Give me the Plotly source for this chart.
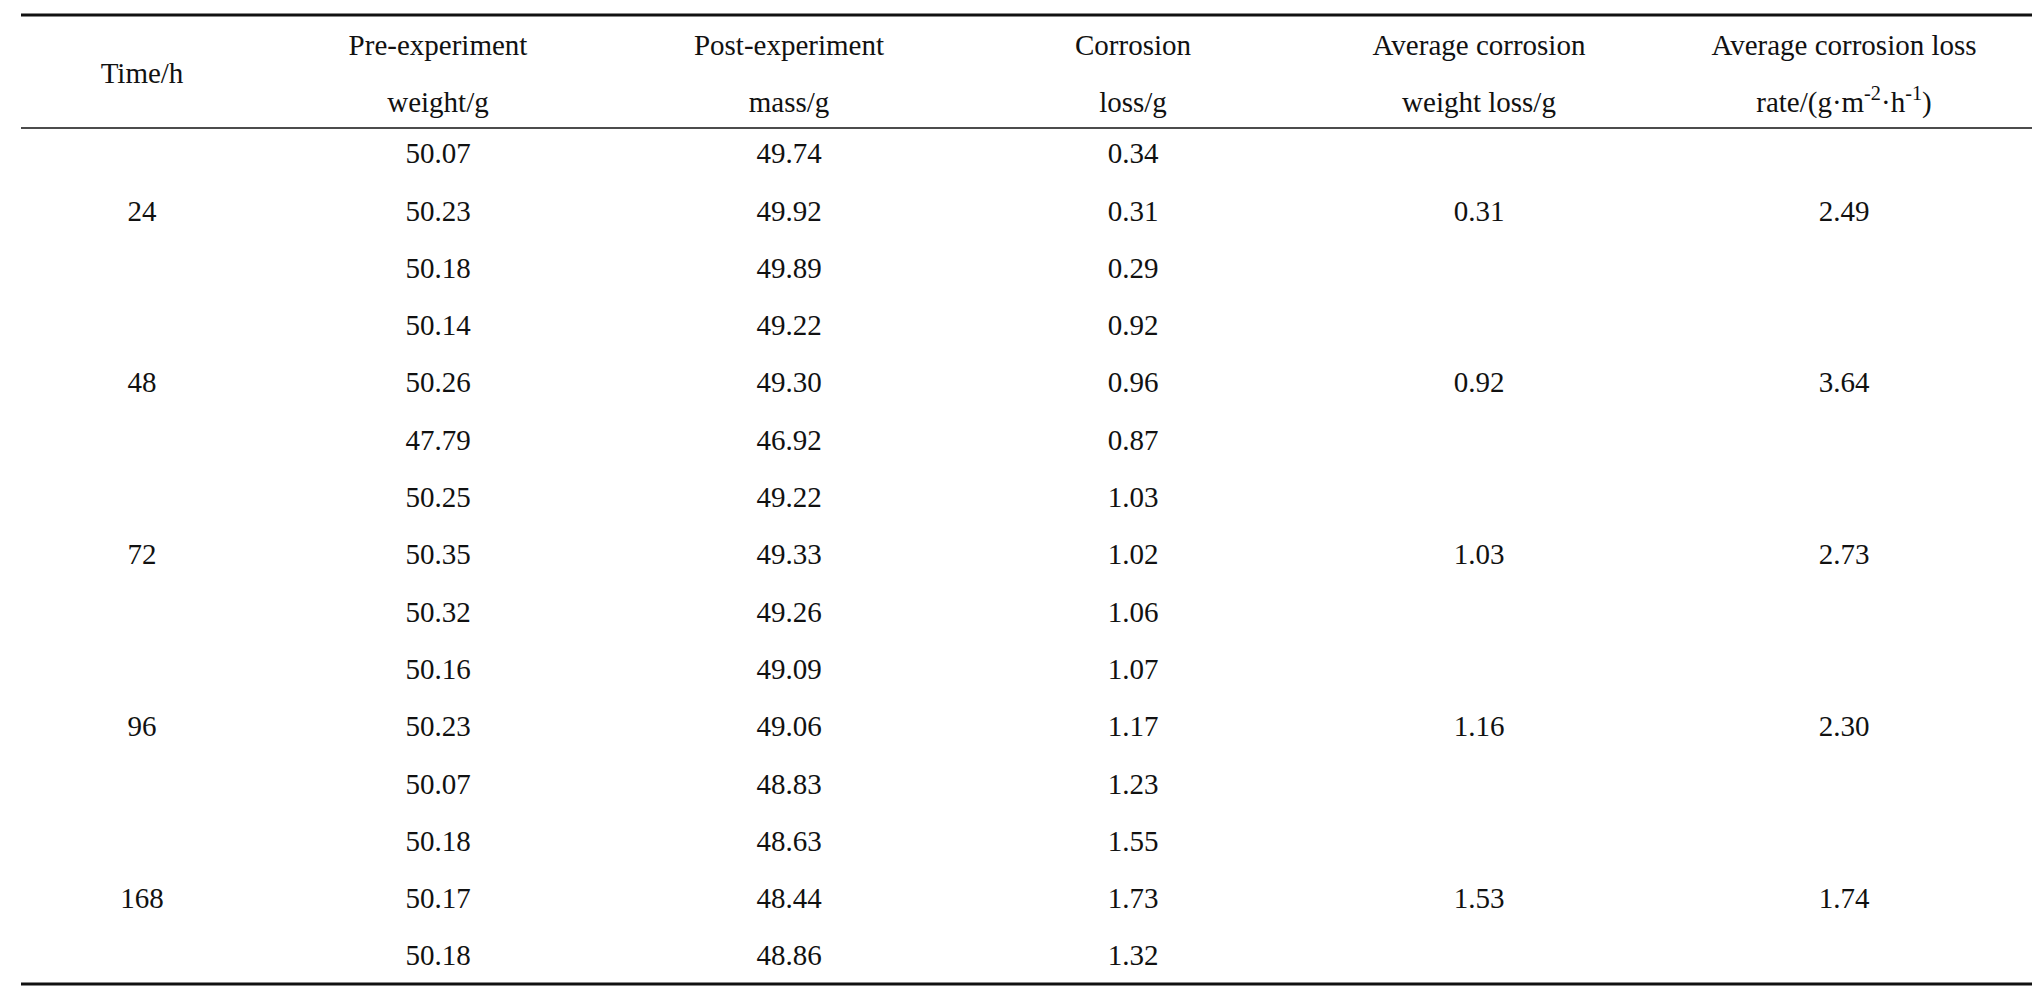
import plotly.graph_objects as go

# table data =======
header_top = ["", "Pre-experiment", "Post-experiment", "Corrosion",
              "Average corrosion", "Average corrosion loss"]
header_bot = ["", "weight/g", "mass/g", "loss/g", "weight loss/g",
              "rate/(g·m<sup>-2</sup>·h<sup>-1</sup>)"]
time_header = "Time/h"
times = ["24", "48", "72", "96", "168"]
pre_weight = ["50.07", "50.23", "50.18", "50.14", "50.26", "47.79", "50.25", "50.35", "50.32",
              "50.16", "50.23", "50.07", "50.18", "50.17", "50.18"]
post_mass = ["49.74", "49.92", "49.89", "49.22", "49.30", "46.92", "49.22", "49.33", "49.26",
             "49.09", "49.06", "48.83", "48.63", "48.44", "48.86"]
corr_loss = ["0.34", "0.31", "0.29", "0.92", "0.96", "0.87", "1.03", "1.02", "1.06",
             "1.07", "1.17", "1.23", "1.55", "1.73", "1.32"]
avg_loss = ["0.31", "0.92", "1.03", "1.16", "1.53"]
avg_rate = ["2.49", "3.64", "2.73", "2.30", "1.74"]

# layout in pixels
W, H = 2041, 998
col_x = [134, 430, 781, 1125, 1471, 1836]
row0, row_h = 148, 57.3
font = dict(family="Liberation Serif, Times New Roman, serif", size=29, color="#111")

fig = go.Figure()

def add_text(xs, ys, texts):
    fig.add_trace(go.Scatter(x=xs, y=ys, mode="text", text=texts,
                             textfont=font, hoverinfo="skip"))

# header
add_text(col_x[1:], [40] * 5, header_top[1:])
add_text(col_x[1:], [97] * 5, header_bot[1:])
add_text([col_x[0]], [68], [time_header])

# per-sample columns
rows = [row0 + i * row_h for i in range(len(pre_weight))]
for cx, vals in zip(col_x[1:4], [pre_weight, post_mass, corr_loss]):
    add_text([cx] * len(vals), rows, vals)

# grouped columns, centred on the middle row of each group
grp = [row0 + (3 * g + 1) * row_h for g in range(len(times))]
for cx, vals in zip([col_x[0], col_x[4], col_x[5]], [times, avg_loss, avg_rate]):
    add_text([cx] * len(vals), grp, vals)

# rules
for y, w in [(7, 3), (120, 1.5), (976, 3)]:
    fig.add_shape(type="line", x0=13, x1=2024, y0=y, y1=y, xref="x", yref="y",
                  line=dict(color="#111", width=w))

fig.update_layout(width=W, height=H, margin=dict(l=0, r=0, t=0, b=0),
                  plot_bgcolor="white", paper_bgcolor="white", showlegend=False,
                  xaxis=dict(range=[0, W], visible=False),
                  yaxis=dict(range=[H, 0], visible=False))
fig.write_html("out.html")
